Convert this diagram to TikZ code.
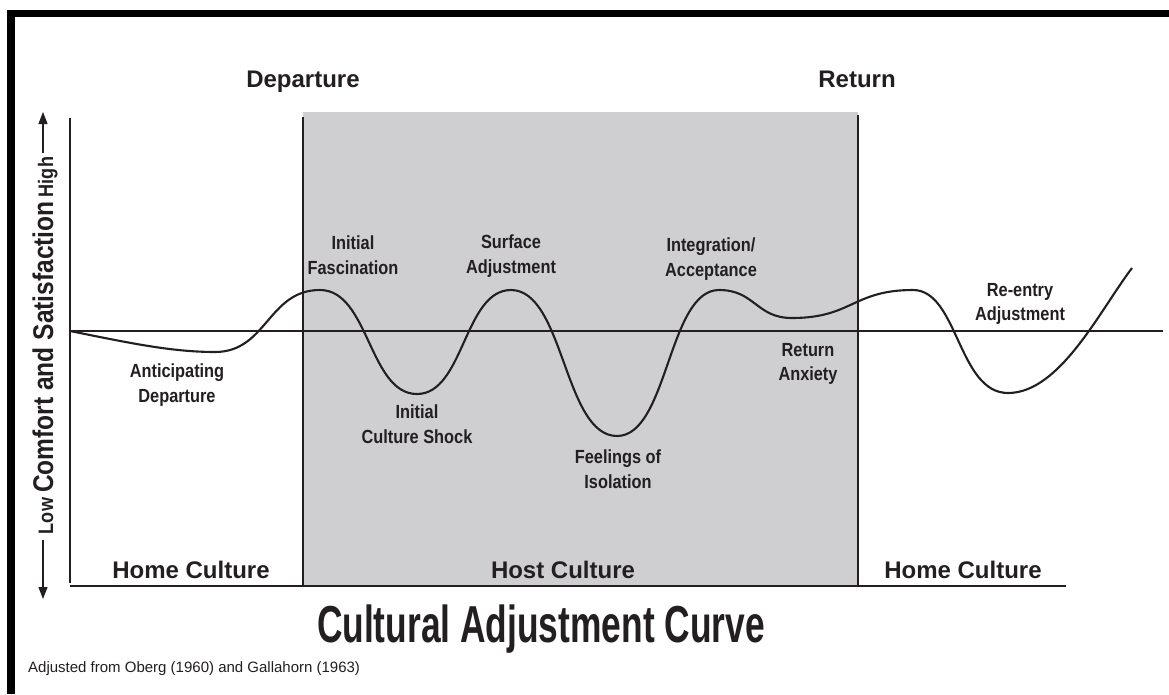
\documentclass[tikz,border=0pt]{standalone}
\usepackage{fontspec}
\setmainfont{Liberation Sans}
\newfontfamily\headfont{Liberation Sans}
\newfontfamily\labelfont{Liberation Sans}[FakeStretch=0.86]
\newfontfamily\titlefont{Liberation Sans}[FakeStretch=0.68]
\usetikzlibrary{arrows.meta}
\definecolor{hostgray}{RGB}{207,207,209}
\definecolor{ink}{RGB}{35,31,32}

\begin{document}
\begin{tikzpicture}[x=1pt,y=-1pt,
  head/.style={font=\headfont\bfseries\fontsize{24}{28}\selectfont, text=ink, inner sep=0pt, anchor=base},
  stage/.style={font=\labelfont\bfseries\fontsize{19}{24.5}\selectfont, text=ink, align=center, inner sep=0pt, anchor=north},
  axistext/.style={font=\labelfont\bfseries, text=ink, inner sep=0pt, rotate=90, anchor=base},
  axisline/.style={draw=ink, line width=1.6pt},
  edgeline/.style={draw=ink, line width=2pt},
  curve/.style={draw=ink, line width=2.1pt},
  axisarrow/.style={draw=ink, line width=1.3pt, -{Triangle[length=12pt,width=9pt]}},
]
\useasboundingbox (0,0) rectangle (1169,694);
\fill[white] (0,0) rectangle (1169,694);

% heavy frame along the top and left
\fill[black] (7,10) rectangle (1169,17);
\fill[black] (7,10) rectangle (15,694);

% host culture band
\fill[hostgray] (303,112) rectangle (858,586);
\coordinate (hostLtop) at (303,117);
\coordinate (hostLbot) at (303,586);
\coordinate (hostRtop) at (858,115);
\coordinate (hostRbot) at (858,586);
\draw[edgeline] (hostLtop) -- (hostLbot);
\draw[edgeline] (hostRtop) -- (hostRbot);

% axes
\coordinate (axTop) at (70,118);
\coordinate (axBot) at (70,583);
\coordinate (baseL) at (70,586);
\coordinate (baseR) at (1066,586);
\coordinate (midL) at (70,331);
\coordinate (midR) at (1163,331);
\draw[axisline] (axTop) -- (axBot);
\draw[axisline] (baseL) -- (baseR);
\draw[axisline] (midL) -- (midR);

% adjustment curve
\draw[curve] (70,331) .. controls (125,342) and (170,352) .. (215,352)
  .. controls (267,352) and (268,290) .. (320,290)
  .. controls (369,290) and (369,394) .. (417,394)
  .. controls (464,394) and (464,290) .. (511,290)
  .. controls (564,290) and (564,436) .. (617,436)
  .. controls (668,436) and (668,290) .. (719,290)
  .. controls (755,290) and (756,318) .. (792,318)
  .. controls (852,318) and (853,290) .. (913,290)
  .. controls (958,290) and (958,393) .. (1008,393)
  .. controls (1060,393) and (1100,310) .. (1132,268);

% phase headings
\node[head] (departure) at (303,87) {Departure};
\node[head] (return) at (857,87) {Return};
\node[head] (home1) at (191,578) {Home Culture};
\node[head] (host) at (563,578) {Host Culture};
\node[head] (home2) at (963,578) {Home Culture};

% stage labels
\node[stage] (fascination) at (353,236) {Initial\\Fascination};
\node[stage] (surface) at (511,235) {Surface\\Adjustment};
\node[stage] (shock) at (417,405) {Initial\\Culture Shock};
\node[stage] (isolation) at (618,450) {Feelings of\\Isolation};
\node[stage] (integration) at (711,238) {Integration/\\Acceptance};
\node[stage] (anxiety) at (808,343) {Return\\Anxiety};
\node[stage] (reentry) at (1020,283) {Re-entry\\Adjustment};
\node[stage] (anticipating) at (177,364) {Anticipating\\Departure};

% vertical axis caption
\node[axistext, font=\labelfont\bfseries\fontsize{21}{24}\selectfont] (high) at (53,177) {High};
\node[axistext, font=\labelfont\bfseries\fontsize{28.5}{32}\selectfont] (comfort) at (53,347) {Comfort and Satisfaction};
\node[axistext, font=\labelfont\bfseries\fontsize{21}{24}\selectfont] (low) at (53,516) {Low};
\coordinate (upS) at (43,153);
\coordinate (upT) at (43,112);
\coordinate (dnS) at (43,540);
\coordinate (dnT) at (43,599);
\draw[axisarrow] (upS) -- (upT);
\draw[axisarrow] (dnS) -- (dnT);

% title and source
\node[font=\titlefont\bfseries\fontsize{52}{56}\selectfont, text=ink, inner sep=0pt, anchor=base] (title) at (541,642) {Cultural Adjustment Curve};
\node[font=\headfont\fontsize{15}{18}\selectfont, text=ink, inner sep=0pt, anchor=base west] (source) at (28,672) {Adjusted from Oberg (1960) and Gallahorn (1963)};
\end{tikzpicture}
\end{document}
